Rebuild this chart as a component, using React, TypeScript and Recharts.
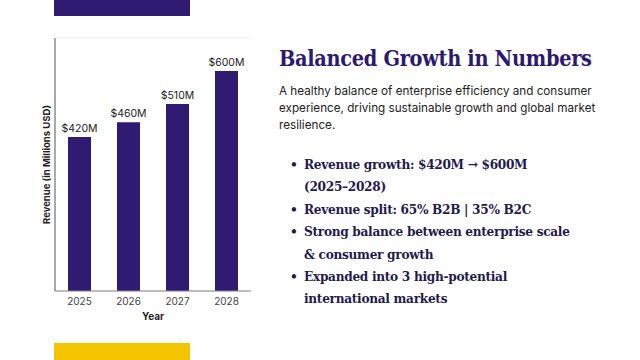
import { Bar, BarChart, CartesianGrid, LabelList, XAxis, YAxis } from "recharts";

const years = ["2025", "2026", "2027", "2028"];
const revenue = [420, 460, 510, 600];
const revenueTicks = [0, 100, 200, 300, 400, 500, 600];

const introLines = [
    "A healthy balance of enterprise efficiency and consumer",
    "experience, driving sustainable growth and global market",
    "resilience.",
];

const bullets = [
    ["Revenue growth: $420M \u2192 $600M", "(2025\u20132028)"],
    ["Revenue split: 65% B2B | 35% B2C"],
    ["Strong balance between enterprise scale", "& consumer growth"],
    ["Expanded into 3 high-potential", "international markets"],
];

const data = years.map((year, i) => ({ year, revenue: revenue[i] }));

const PURPLE = "#2f1b72";
const sans = "Inter, 'Noto Sans', sans-serif";
const slab = "'DejaVu Serif', serif";

const App = () => <div style={{
    position: "absolute",
    left: 0,
    top: 0,
    width: 640,
    height: 360,
    background: "#fff",
    overflow: "hidden",
}}>
    <div style={{ position: "absolute", left: 54, top: 0, width: 136, height: 16, background: PURPLE }} />
    <div style={{ position: "absolute", left: 54, top: 343, width: 136, height: 17, background: "#f5c400" }} />

    <BarChart
        width={260}
        height={330}
        data={data}
        margin={{ top: 38, right: 9, bottom: 0, left: 0 }}
        style={{ position: "absolute", left: 0, top: 0 }}
    >
        <CartesianGrid vertical={false} stroke="#ececec" />
        <XAxis
            dataKey="year"
            height={39}
            tickSize={0}
            tickMargin={7}
            tickLine={false}
            axisLine={{ stroke: "#888" }}
            tick={{ fill: "#444", fontSize: 10, fontFamily: sans }}
            label={{ value: "Year", position: "insideBottom", offset: 10, fill: "#222", fontSize: 10, fontWeight: 700, fontFamily: sans }}
        />
        <YAxis
            width={55}
            domain={[0, 690]}
            ticks={revenueTicks}
            tick={false}
            tickLine={false}
            axisLine={{ stroke: "#555" }}
            label={{ value: "Revenue (in Millions USD)", angle: -90, position: "center", dx: 19, fill: "#222", fontSize: 9.5, fontWeight: 700, fontFamily: sans }}
        />
        <Bar dataKey="revenue" fill={PURPLE} barSize={23} isAnimationActive={false}>
            <LabelList
                dataKey="revenue"
                position="top"
                formatter={(v: any) => `$${v}M`}
                fill="#222"
                fontSize={10.5}
                fontFamily={sans}
            />
        </Bar>
    </BarChart>

    <div style={{
        position: "absolute",
        left: 279,
        top: 46,
        fontFamily: slab,
        fontStretch: "condensed",
        fontWeight: 700,
        fontSize: 21.5,
        letterSpacing: -0.3,
        lineHeight: "26px",
        color: "#2b1a6d",
        whiteSpace: "nowrap",
    }}>Balanced Growth in Numbers</div>

    <div style={{
        position: "absolute",
        left: 279,
        top: 83,
        fontFamily: sans,
        fontSize: 11.7,
        lineHeight: "17px",
        color: "#222",
        whiteSpace: "nowrap",
    }}>
        {introLines.map((l, i) => <div key={i}>{l}</div>)}
    </div>

    <div style={{
        position: "absolute",
        left: 304,
        top: 153,
        fontFamily: slab,
        fontStretch: "condensed",
        fontWeight: 700,
        fontSize: 13.5,
        letterSpacing: -0.3,
        lineHeight: "22.4px",
        color: "#1f1b4d",
        whiteSpace: "nowrap",
    }}>
        {bullets.map((lines, i) => <div key={i} style={{ position: "relative" }}>
            <span style={{ position: "absolute", left: -14 }}>{"\u2022"}</span>
            {lines.map((l, j) => <div key={j}>{l}</div>)}
        </div>)}
    </div>
</div>

export default App
